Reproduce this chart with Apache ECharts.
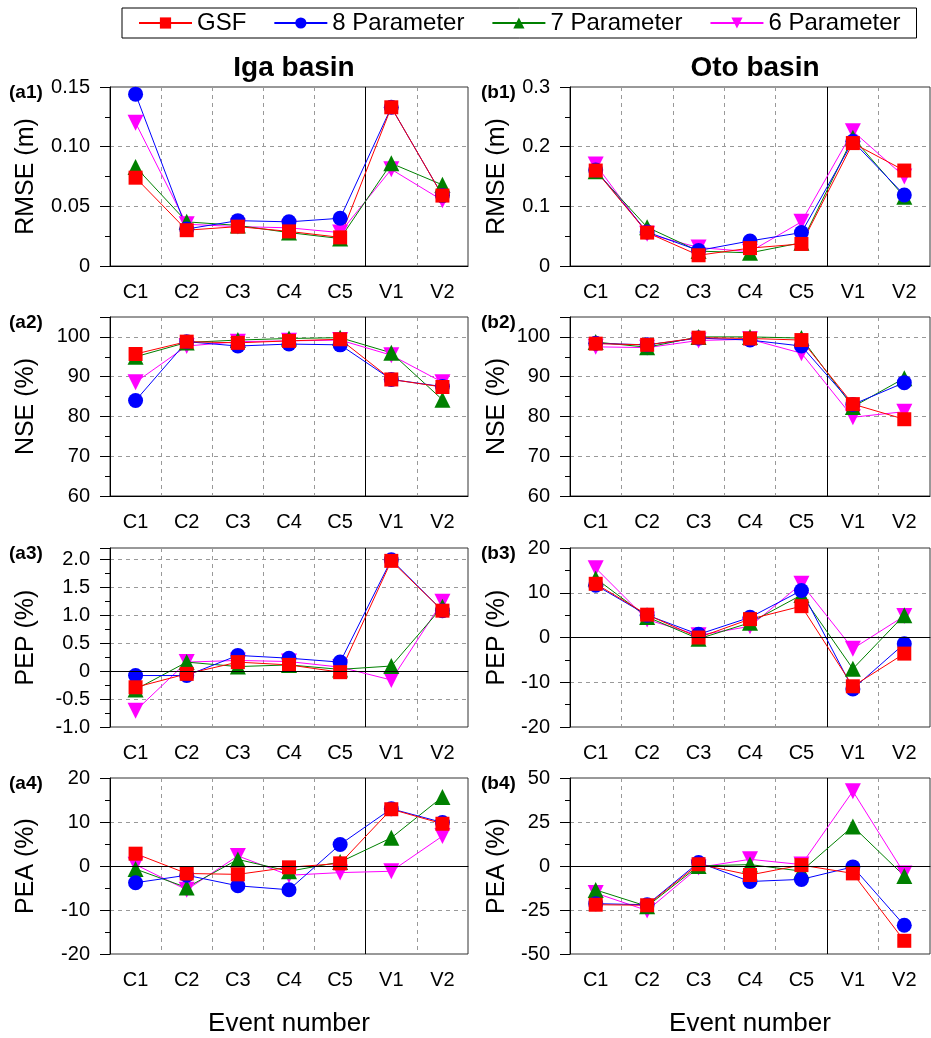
<!DOCTYPE html>
<html>
<head>
<meta charset="utf-8">
<script src="https://cdn.jsdelivr.net/npm/echarts@6/dist/echarts.min.js"></script>
<style>
  html, body { margin: 0; padding: 0; background: #fff; }
  #chart { width: 931px; height: 1038px; }
</style>
</head>
<body>
<div id="chart"></div>
<script>
// event categories
const categories = ['C1', 'C2', 'C3', 'C4', 'C5', 'V1', 'V2'];
const seriesNames = ['GSF', '8 Parameter', '7 Parameter', '6 Parameter'];

// Iga basin
const igaRmseGSF = [0.074, 0.030, 0.033, 0.029, 0.024, 0.133, 0.059];
const igaRmse8P  = [0.144, 0.031, 0.038, 0.037, 0.040, 0.133, 0.059];
const igaRmse7P  = [0.083, 0.037, 0.034, 0.028, 0.023, 0.086, 0.068];
const igaRmse6P  = [0.120, 0.035, 0.033, 0.032, 0.028, 0.081, 0.055];

const igaNseGSF = [95.7, 98.8, 98.5, 99.0, 99.4, 89.3, 87.4];
const igaNse8P  = [84.0, 98.8, 97.7, 98.2, 98.0, 89.3, 87.5];
const igaNse7P  = [95.0, 98.6, 99.2, 99.6, 99.8, 96.0, 84.2];
const igaNse6P  = [88.6, 97.7, 98.8, 99.0, 99.2, 95.4, 88.6];

const igaPepGSF = [-0.29, -0.05, 0.16, 0.11, -0.02, 1.97, 1.08];
const igaPep8P  = [-0.08, -0.08, 0.28, 0.23, 0.16, 1.99, 1.08];
const igaPep7P  = [-0.33, 0.16, 0.08, 0.11, 0.03, 0.09, 1.15];
const igaPep6P  = [-0.71, 0.16, 0.19, 0.17, 0.07, -0.16, 1.24];

const igaPeaGSF = [2.8, -1.7, -1.9, -0.3, 0.6, 12.9, 9.6];
const igaPea8P  = [-3.8, -2.1, -4.5, -5.4, 4.9, 13.0, 9.9];
const igaPea7P  = [-0.7, -4.9, 1.5, -1.2, 0.9, 6.4, 15.7];
const igaPea6P  = [0.3, -5.4, 2.3, -2.1, -1.5, -1.2, 6.8];

// Oto basin
const otoRmseGSF = [0.160, 0.056, 0.018, 0.030, 0.037, 0.206, 0.160];
const otoRmse8P  = [0.161, 0.057, 0.026, 0.042, 0.056, 0.209, 0.119];
const otoRmse7P  = [0.159, 0.065, 0.025, 0.022, 0.039, 0.215, 0.116];
const otoRmse6P  = [0.170, 0.054, 0.031, 0.024, 0.074, 0.226, 0.150];

const otoNseGSF = [98.3, 98.0, 99.8, 99.6, 99.2, 83.1, 79.3];
const otoNse8P  = [98.4, 98.0, 99.7, 99.2, 97.7, 83.0, 88.5];
const otoNse7P  = [98.7, 97.4, 100.0, 100.0, 99.7, 82.4, 89.6];
const otoNse6P  = [97.5, 97.3, 99.1, 99.4, 95.9, 79.8, 81.2];

const otoPepGSF = [12.0, 5.1, 0.0, 4.1, 7.0, -10.9, -3.6];
const otoPep8P  = [11.7, 5.0, 0.7, 4.5, 10.5, -11.5, -1.4];
const otoPep7P  = [13.2, 4.6, -0.3, 3.3, 9.5, -7.0, 5.0];
const otoPep6P  = [15.5, 4.0, 0.5, 2.5, 12.0, -2.5, 4.8];

const otoPeaGSF = [-22.0, -22.3, 1.0, -5.1, 0.5, -4.2, -42.5];
const otoPea8P  = [-21.4, -22.0, 2.0, -8.8, -7.6, -0.5, -33.7];
const otoPea7P  = [-13.6, -22.9, 0.0, 0.8, -2.9, 22.5, -5.7];
const otoPea6P  = [-15.4, -25.3, -0.8, 3.8, 0.8, 42.5, -4.2];

const FONT = '"Liberation Sans", Arial, sans-serif';

// one entry per panel, data order: GSF, 8P, 7P, 6P
const panels = [
  { tag: '(a1)', name: 'RMSE (m)', min: 0, max: 0.15, step: 0.05, dec: 2, zero: false, col: 0, row: 0, data: [igaRmseGSF, igaRmse8P, igaRmse7P, igaRmse6P] },
  { tag: '(a2)', name: 'NSE (%)', min: 60, max: 105, step: 10, dec: 0, zero: false, col: 0, row: 1, data: [igaNseGSF, igaNse8P, igaNse7P, igaNse6P] },
  { tag: '(a3)', name: 'PEP (%)', min: -1, max: 2.2, step: 0.5, dec: 1, zero: true, col: 0, row: 2, data: [igaPepGSF, igaPep8P, igaPep7P, igaPep6P] },
  { tag: '(a4)', name: 'PEA (%)', min: -20, max: 20, step: 10, dec: 0, zero: true, col: 0, row: 3, data: [igaPeaGSF, igaPea8P, igaPea7P, igaPea6P] },
  { tag: '(b1)', name: 'RMSE (m)', min: 0, max: 0.3, step: 0.1, dec: 1, zero: false, col: 1, row: 0, data: [otoRmseGSF, otoRmse8P, otoRmse7P, otoRmse6P] },
  { tag: '(b2)', name: 'NSE (%)', min: 60, max: 105, step: 10, dec: 0, zero: false, col: 1, row: 1, data: [otoNseGSF, otoNse8P, otoNse7P, otoNse6P] },
  { tag: '(b3)', name: 'PEP (%)', min: -20, max: 20, step: 10, dec: 0, zero: true, col: 1, row: 2, data: [otoPepGSF, otoPep8P, otoPep7P, otoPep6P] },
  { tag: '(b4)', name: 'PEA (%)', min: -50, max: 50, step: 25, dec: 0, zero: true, col: 1, row: 3, data: [otoPeaGSF, otoPea8P, otoPea7P, otoPea6P] }
];

// marker styles per series
const styles = [
  { color: '#ff0000', symbol: 'rect', size: 14, rotate: 0 },
  { color: '#0000ff', symbol: 'circle', size: 15, rotate: 0 },
  { color: '#008000', symbol: 'triangle', size: 16, rotate: 0 },
  { color: '#ff00ff', symbol: 'triangle', size: 16, rotate: 180 }
];

const colLeft = [110, 570];
const colWidth = [358, 360];
const rowTop = [87, 317, 548, 778];
const plotH = 179;

const grids = [], xAxes = [], yAxes = [], series = [];
const titles = [
  { text: 'Iga basin', left: 289, top: 49, textAlign: 'center', textStyle: { fontFamily: FONT, fontSize: 28, fontWeight: 'bold', color: '#000' } },
  { text: 'Oto basin', left: 750, top: 49, textAlign: 'center', textStyle: { fontFamily: FONT, fontSize: 28, fontWeight: 'bold', color: '#000' } }
];

panels.forEach((p, i) => {
  grids.push({
    left: colLeft[p.col], top: rowTop[p.row], width: colWidth[p.col], height: plotH,
    show: true, borderColor: '#333', borderWidth: 1, backgroundColor: 'transparent'
  });
  titles.push({
    text: p.tag, left: p.col === 0 ? 4 : 476, top: rowTop[p.row] - 9,
    textStyle: { fontFamily: FONT, fontSize: 19, fontWeight: 'bold', color: '#000' }
  });
  // main category axis
  xAxes.push({
    type: 'category', gridIndex: i, data: categories, position: 'bottom',
    boundaryGap: true,
    name: p.row === 3 ? 'Event number' : '',
    nameLocation: 'middle', nameGap: 57,
    nameTextStyle: { fontFamily: FONT, fontSize: 26, color: '#000' },
    axisLine: { lineStyle: { color: '#000', width: 1 } },
    axisTick: { alignWithLabel: true, length: 10, interval: 0, lineStyle: { color: '#000' } },
    axisLabel: { fontFamily: FONT, fontSize: 20, color: '#000', margin: 16, interval: 0 },
    splitLine: { show: true, interval: 0, showMinLine: false, showMaxLine: false, lineStyle: { color: '#999', type: [4, 4], width: 1 } }
  });
  // overlay axis: solid divider between calibration and validation events
  xAxes.push({
    type: 'category', gridIndex: i, data: categories, position: 'top', z: 3,
    axisLine: { show: false }, axisTick: { show: false }, axisLabel: { show: false, interval: 0 },
    splitLine: {
      show: true, interval: 0,
      lineStyle: { color: ['rgba(0,0,0,0)', 'rgba(0,0,0,0)', 'rgba(0,0,0,0)', 'rgba(0,0,0,0)', 'rgba(0,0,0,0)', '#000', 'rgba(0,0,0,0)', 'rgba(0,0,0,0)'], type: 'solid', width: 1 }
    }
  });
  yAxes.push({
    type: 'value', gridIndex: i, min: p.min, max: p.max, interval: p.step,
    name: p.name, nameLocation: 'middle', nameGap: p.col === 0 ? 71 : 60,
    nameTextStyle: { fontFamily: FONT, fontSize: 25, color: '#000' },
    axisLine: { show: true, lineStyle: { color: '#000', width: 1 } },
    axisTick: { show: true, length: 10, lineStyle: { color: '#000' } },
    minorTick: { show: true, splitNumber: 2, length: 5, lineStyle: { color: '#000' } },
    axisLabel: {
      fontFamily: FONT, fontSize: 20, color: '#000', margin: 20,
      formatter: function (v) {
        const k = v / p.step;
        if (Math.abs(k - Math.round(k)) > 1e-6) return '';
        if (Math.abs(v) < 1e-9) return '0';
        return v.toFixed(p.dec);
      }
    },
    splitLine: { show: true, showMinLine: false, showMaxLine: false, lineStyle: { color: '#999', type: [4, 4], width: 1 } }
  });
  // draw order: 6P, 7P, 8P, GSF (GSF on top)
  [3, 2, 1, 0].forEach(s => {
    const st = styles[s];
    const ser = {
      name: seriesNames[s], type: 'line', xAxisIndex: 2 * i, yAxisIndex: i,
      data: p.data[s],
      symbol: st.symbol, symbolSize: st.size, symbolRotate: st.rotate,
      showAllSymbol: true,
      lineStyle: { color: st.color, width: 1 },
      itemStyle: { color: st.color, borderWidth: 0 },
      emphasis: { disabled: true },
      animation: false
    };
    if (s === 0 && p.zero) {
      ser.markLine = {
        silent: true, symbol: 'none', label: { show: false },
        lineStyle: { color: '#000', type: 'solid', width: 1 },
        data: [{ yAxis: 0 }],
        animation: false
      };
    }
    series.push(ser);
  });
});

const chart = echarts.init(document.getElementById('chart'));
chart.setOption({
  backgroundColor: '#fff',
  animation: false,
  title: titles,
  legend: {
    data: seriesNames,
    left: 122, top: 8,
    orient: 'horizontal',
    borderColor: '#000', borderWidth: 1,
    padding: [3, 16, 3, 16],
    itemWidth: 53, itemHeight: 14, itemGap: 27,
    textStyle: { fontFamily: FONT, fontSize: 24, color: '#000' }
  },
  grid: grids,
  xAxis: xAxes,
  yAxis: yAxes,
  series: series
});
</script>
</body>
</html>
